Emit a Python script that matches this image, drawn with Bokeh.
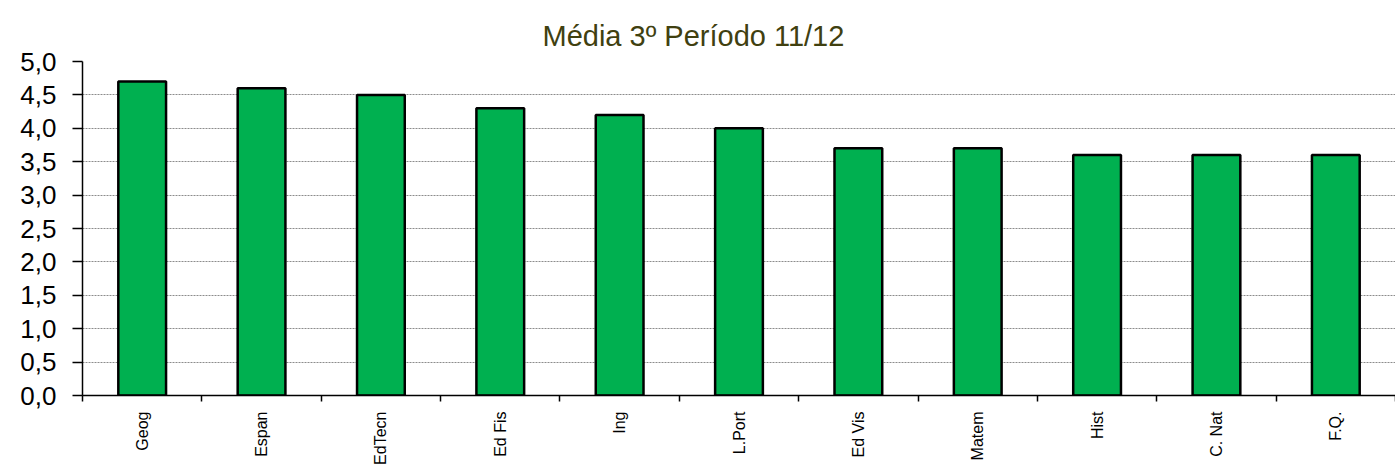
from bokeh.plotting import figure
from bokeh.models import FixedTicker, CustomJSTickFormatter, Range1d, ColumnDataSource
from bokeh.embed import file_html
from bokeh.resources import INLINE

categories = ["Geog", "Espan", "EdTecn", "Ed Fis", "Ing", "L.Port", "Ed Vis", "Matem", "Hist", "C. Nat", "F.Q."]
values = [4.7, 4.6, 4.5, 4.3, 4.2, 4.0, 3.7, 3.7, 3.6, 3.6, 3.6]
y_ticks = [0.0, 0.5, 1.0, 1.5, 2.0, 2.5, 3.0, 3.5, 4.0, 4.5, 5.0]
title_text = "Média 3º Período 11/12"

n = len(categories)
xs = list(range(n))
src = ColumnDataSource(dict(x=xs, top=values, cat=categories))

p = figure(frame_width=1313, frame_height=334, output_backend="svg", toolbar_location=None,
           x_range=Range1d(-0.5, n - 0.5), y_range=Range1d(0, 5.0),
           min_border_left=82, min_border_right=0, min_border_top=61, min_border_bottom=0)

p.title.text = title_text
p.title.align = "left"
p.title.text_font = "Liberation Sans"
p.title.text_font_size = "29px"
p.title.text_font_style = "normal"
p.title.text_color = "#404010"
p.title.standoff = 20
p.title.offset = 460

p.vbar(x="x", top="top", width=0.4, bottom=0, source=src,
       fill_color="#00B050", line_color="black", line_width=2.5)

p.outline_line_color = None
p.background_fill_color = "white"
p.border_fill_color = "white"

# y axis
p.yaxis.ticker = FixedTicker(ticks=y_ticks, minor_ticks=[])
p.yaxis.formatter = CustomJSTickFormatter(code="return tick.toFixed(1).replace('.', ',');")
p.yaxis.major_label_text_font = "Liberation Sans"
p.yaxis.major_label_text_font_size = "26px"
p.yaxis.major_label_text_color = "black"
p.yaxis.axis_line_color = "black"
p.yaxis.axis_line_width = 1.5
p.yaxis.major_tick_out = 10
p.yaxis.major_tick_in = 0
p.yaxis.major_tick_line_color = "black"
p.yaxis.major_tick_line_width = 1.5
p.yaxis.minor_tick_line_color = None
p.yaxis.major_label_standoff = 16

# x axis: labels at centers, tick marks at category boundaries
p.xaxis.ticker = FixedTicker(ticks=xs, minor_ticks=[i - 0.5 for i in range(n + 1)])
p.xaxis.major_label_overrides = {i: c for i, c in enumerate(categories)}
p.xaxis.major_label_orientation = 1.5707963
p.xaxis.major_label_text_font = "Liberation Sans"
p.xaxis.major_label_text_font_size = "16px"
p.xaxis.major_label_text_color = "black"
p.xaxis.major_tick_out = 0
p.xaxis.major_tick_in = 0
p.xaxis.minor_tick_out = 6
p.xaxis.minor_tick_in = 0
p.xaxis.minor_tick_line_color = "black"
p.xaxis.minor_tick_line_width = 1.5
p.xaxis.axis_line_color = "black"
p.xaxis.axis_line_width = 1.5
p.xaxis.major_label_standoff = 10

p.xgrid.grid_line_color = None
p.ygrid.grid_line_color = "#8c8c8c"
p.ygrid.grid_line_dash = "2 1"
p.ygrid.grid_line_width = 1

open("out.html", "w").write(file_html(p, INLINE))
